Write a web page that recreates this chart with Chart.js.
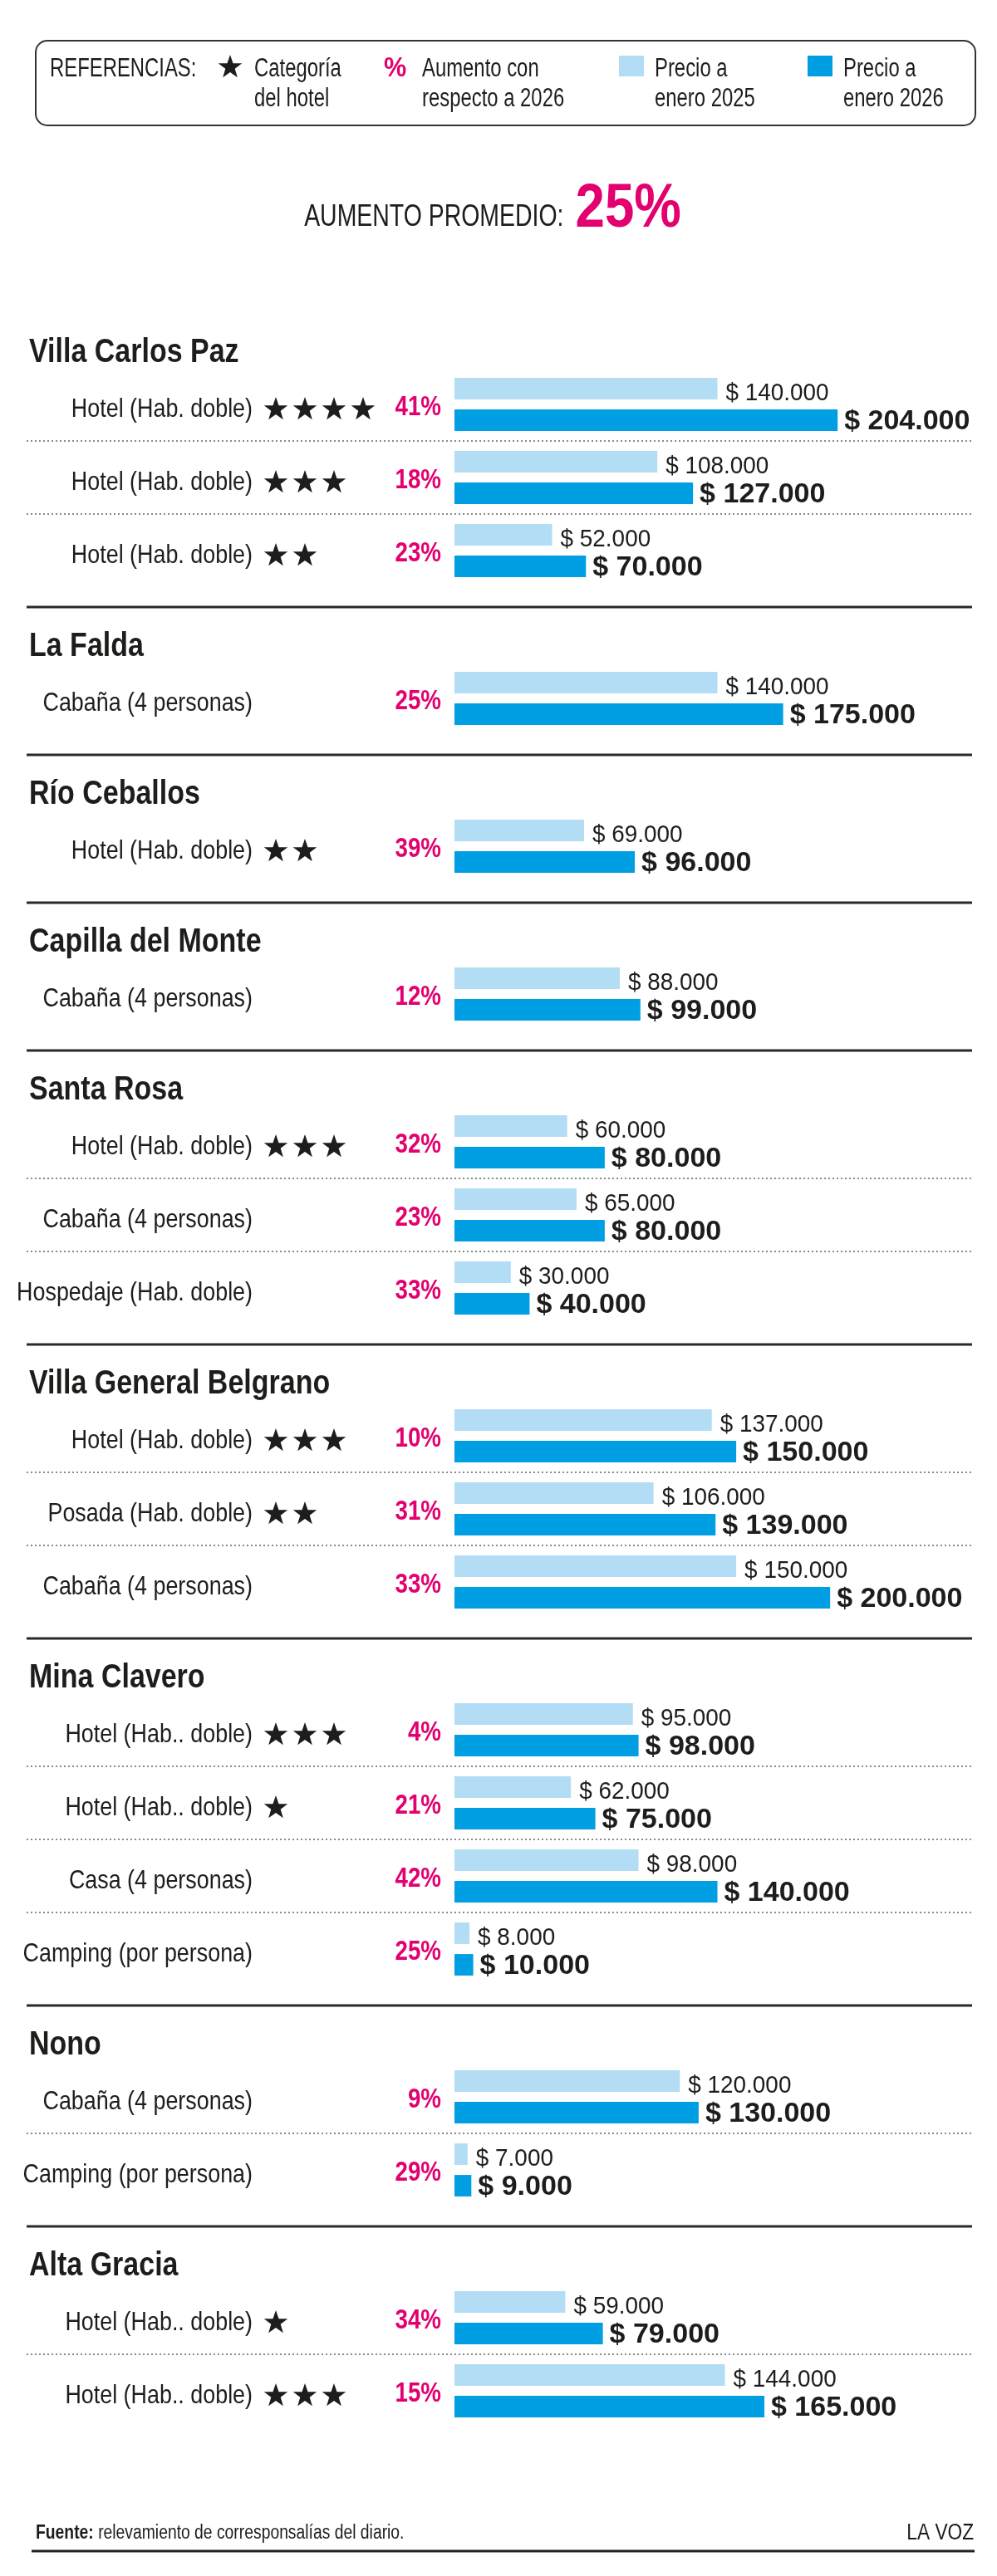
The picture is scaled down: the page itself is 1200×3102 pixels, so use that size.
<!DOCTYPE html>
<html lang="es">
<head>
  <meta charset="UTF-8">
  <title>Precios de alojamiento en Córdoba</title>
  <script src="https://cdn.jsdelivr.net/npm/chart.js"></script>
  <style>
    body {
      margin: 0;
      width: 1200px;
      height: 3102px;
      position: relative;
      background: #fff;
    }
    #head { position: absolute; left: 0; top: 0; }
    #sections { position: absolute; left: 0; top: 375px; width: 1200px; }
    .section { position: relative; width: 1200px; }
    #foot { position: absolute; left: 0; top: 3000px; }
  </style>
</head>
<body>
  <canvas id="head" width="1200" height="375"></canvas>
  <div id="sections"></div>
  <canvas id="foot" width="1200" height="102"></canvas>

  <script>
    // Data read from the infographic
    const sectionNames = ['Villa Carlos Paz', 'La Falda', 'Río Ceballos', 'Capilla del Monte', 'Santa Rosa',
      'Villa General Belgrano', 'Mina Clavero', 'Nono', 'Alta Gracia'];
    const sectionOf = [0, 0, 0, 1, 2, 3, 4, 4, 4, 5, 5, 5, 6, 6, 6, 6, 7, 7, 8, 8];
    const rowLabels = [
      'Hotel (Hab. doble)', 'Hotel (Hab. doble)', 'Hotel (Hab. doble)',
      'Cabaña (4 personas)',
      'Hotel (Hab. doble)',
      'Cabaña (4 personas)',
      'Hotel (Hab. doble)', 'Cabaña (4 personas)', 'Hospedaje (Hab. doble)',
      'Hotel (Hab. doble)', 'Posada (Hab. doble)', 'Cabaña (4 personas)',
      'Hotel (Hab.. doble)', 'Hotel (Hab.. doble)', 'Casa (4 personas)', 'Camping (por persona)',
      'Cabaña (4 personas)', 'Camping (por persona)',
      'Hotel (Hab.. doble)', 'Hotel (Hab.. doble)'
    ];
    const hotelStars = [4, 3, 2, 0, 2, 0, 3, 0, 0, 3, 2, 0, 3, 1, 0, 0, 0, 0, 1, 3];
    const increase = ['41%', '18%', '23%', '25%', '39%', '12%', '32%', '23%', '33%', '10%', '31%', '33%',
      '4%', '21%', '42%', '25%', '9%', '29%', '34%', '15%'];
    const price2025 = [140000, 108000, 52000, 140000, 69000, 88000, 60000, 65000, 30000, 137000, 106000, 150000,
      95000, 62000, 98000, 8000, 120000, 7000, 59000, 144000];
    const price2026 = [204000, 127000, 70000, 175000, 96000, 99000, 80000, 80000, 40000, 150000, 139000, 200000,
      98000, 75000, 140000, 10000, 130000, 9000, 79000, 165000];
    const averageIncrease = '25%';

    const LIGHT = '#b2ddf5';
    const DARK = '#009ee2';
    const MAGENTA = '#e3006f';
    const INK = '#1d1d1b';
    const SANS = "'Liberation Sans', Arial, sans-serif";
    const NARROW = 0.8; // horizontal squeeze to get a narrow face

    function money(v) {
      return '$ ' + String(v).replace(/\B(?=(\d{3})+(?!\d))/g, '.');
    }

    // draw condensed text, returns the drawn width
    function nText(ctx, str, x, y, font, align, sx) {
      sx = sx || NARROW;
      ctx.save();
      ctx.font = font;
      ctx.textAlign = align || 'left';
      ctx.translate(x, y);
      ctx.scale(sx, 1);
      ctx.fillText(str, 0, 0);
      const w = ctx.measureText(str).width * sx;
      ctx.restore();
      return w;
    }

    function star(ctx, cx, cy, r) {
      ctx.beginPath();
      for (let k = 0; k < 10; k++) {
        const rad = k % 2 === 0 ? r : r * 0.4;
        const a = -Math.PI / 2 + k * Math.PI / 5;
        const px = cx + rad * Math.cos(a), py = cy + rad * Math.sin(a);
        if (k === 0) ctx.moveTo(px, py); else ctx.lineTo(px, py);
      }
      ctx.closePath();
      ctx.fill();
    }

    // Header: references box and average
    const h = document.getElementById('head').getContext('2d');
    h.strokeStyle = '#333';
    h.lineWidth = 2;
    h.beginPath();
    h.roundRect(43, 49, 1131, 102, 14);
    h.stroke();
    h.textBaseline = 'middle';
    h.fillStyle = INK;
    const LG = '31px ' + SANS;
    nText(h, 'REFERENCIAS:', 60, 83, LG, 'left', 0.77);
    star(h, 277, 81, 15);
    nText(h, 'Categoría', 306, 83, LG, 'left', 0.77);
    nText(h, 'del hotel', 306, 119, LG, 'left', 0.77);
    h.fillStyle = MAGENTA;
    nText(h, '%', 462, 83, 'bold 34px ' + SANS, 'left', 0.9);
    h.fillStyle = INK;
    nText(h, 'Aumento con', 508, 83, LG, 'left', 0.77);
    nText(h, 'respecto a 2026', 508, 119, LG, 'left', 0.77);
    h.fillStyle = LIGHT;
    h.fillRect(745, 67, 30, 25);
    h.fillStyle = INK;
    nText(h, 'Precio a', 788, 83, LG, 'left', 0.77);
    nText(h, 'enero 2025', 788, 119, LG, 'left', 0.77);
    h.fillStyle = DARK;
    h.fillRect(972, 67, 30, 25);
    h.fillStyle = INK;
    nText(h, 'Precio a', 1015, 83, LG, 'left', 0.77);
    nText(h, 'enero 2026', 1015, 119, LG, 'left', 0.77);

    h.textBaseline = 'alphabetic';
    const lead = 'AUMENTO PROMEDIO:';
    h.font = '36px ' + SANS;
    const leadW = h.measureText(lead).width * 0.79;
    h.font = 'bold 74px ' + SANS;
    const avgW = h.measureText(averageIncrease).width * 0.86;
    const x0 = 593 - (leadW + 14 + avgW) / 2;
    h.fillStyle = INK;
    nText(h, lead, x0, 272, '36px ' + SANS, 'left', 0.79);
    h.fillStyle = MAGENTA;
    nText(h, averageIncrease, x0 + leadW + 14, 273, 'bold 74px ' + SANS, 'left', 0.86);

    // Labels, stars, percentages, values and separators for each section
    const rowDecor = {
      id: 'rowDecor',
      afterDatasetsDraw(chart, args, opts) {
        const ctx = chart.ctx;
        const ys = chart.scales.y;
        const s = opts.section;
        const rows = sectionOf.map((v, i) => v === s ? i : -1).filter(i => i >= 0);
        const m25 = chart.getDatasetMeta(0).data;
        const m26 = chart.getDatasetMeta(1).data;
        ctx.save();
        ctx.textBaseline = 'middle';

        if (s > 0) {
          ctx.strokeStyle = '#2a2a2a';
          ctx.lineWidth = 3;
          ctx.beginPath();
          ctx.moveTo(32, 2);
          ctx.lineTo(1170, 2);
          ctx.stroke();
        }

        ctx.fillStyle = INK;
        nText(ctx, sectionNames[s], 35, 50, 'bold 40px ' + SANS, 'left', 0.85);

        rows.forEach((r, j) => {
          const yc = ys.getPixelForValue(j);
          if (j > 0) {
            const yd = (yc + ys.getPixelForValue(j - 1)) / 2;
            ctx.strokeStyle = '#8a8a8a';
            ctx.lineWidth = 2;
            ctx.setLineDash([2, 3]);
            ctx.beginPath();
            ctx.moveTo(32, yd);
            ctx.lineTo(1170, yd);
            ctx.stroke();
            ctx.setLineDash([]);
          }

          ctx.fillStyle = INK;
          nText(ctx, rowLabels[r], 304, yc + 6, '32px ' + SANS, 'right', 0.84);
          for (let k = 0; k < hotelStars[r]; k++) star(ctx, 332 + 35 * k, yc + 6, 15);

          ctx.fillStyle = MAGENTA;
          nText(ctx, increase[r], 531, yc + 4, 'bold 33px ' + SANS, 'right', 0.84);

          ctx.fillStyle = INK;
          nText(ctx, money(price2025[r]), m25[j].x + 10, m25[j].y + 6, '30px ' + SANS, 'left', 0.93);
          nText(ctx, money(price2026[r]), m26[j].x + 8, m26[j].y + 2, 'bold 34px ' + SANS, 'left', 1);
        });
        ctx.restore();
      }
    };

    const holder = document.getElementById('sections');
    sectionNames.forEach((name, s) => {
      const rows = sectionOf.map((v, i) => v === s ? i : -1).filter(i => i >= 0);
      const wrap = document.createElement('div');
      wrap.className = 'section';
      wrap.style.height = (90 + 88 * rows.length) + 'px';
      const cv = document.createElement('canvas');
      wrap.appendChild(cv);
      holder.appendChild(wrap);

      new Chart(cv, {
        type: 'bar',
        data: {
          labels: rows.map(i => rowLabels[i]),
          datasets: [
            { label: 'Precio a enero 2025', data: rows.map(i => price2025[i]), backgroundColor: LIGHT },
            { label: 'Precio a enero 2026', data: rows.map(i => price2026[i]), backgroundColor: DARK }
          ]
        },
        options: {
          indexAxis: 'y',
          responsive: true,
          maintainAspectRatio: false,
          animation: false,
          events: [],
          layout: { padding: { left: 547, right: 20, top: 68, bottom: 22 } },
          datasets: { bar: { categoryPercentage: 0.864, barPercentage: 0.68, borderWidth: 0 } },
          scales: {
            x: { display: false, min: 0, max: 280000 },
            y: { display: false }
          },
          plugins: {
            legend: { display: false },
            tooltip: { enabled: false },
            rowDecor: { section: s }
          }
        },
        plugins: [rowDecor]
      });
    });

    // Footer
    const f = document.getElementById('foot').getContext('2d');
    f.textBaseline = 'middle';
    f.fillStyle = INK;
    const fw = nText(f, 'Fuente:', 43, 51, 'bold 23px ' + SANS, 'left', 0.84);
    nText(f, ' relevamiento de corresponsalías del diario.', 43 + fw, 51, '23px ' + SANS, 'left', 0.84);
    nText(f, 'LA VOZ', 1172, 51, '27px ' + SANS, 'right', 0.84);
    f.strokeStyle = '#222';
    f.lineWidth = 3;
    f.beginPath();
    f.moveTo(38, 72);
    f.lineTo(1173, 72);
    f.stroke();
  </script>
</body>
</html>
